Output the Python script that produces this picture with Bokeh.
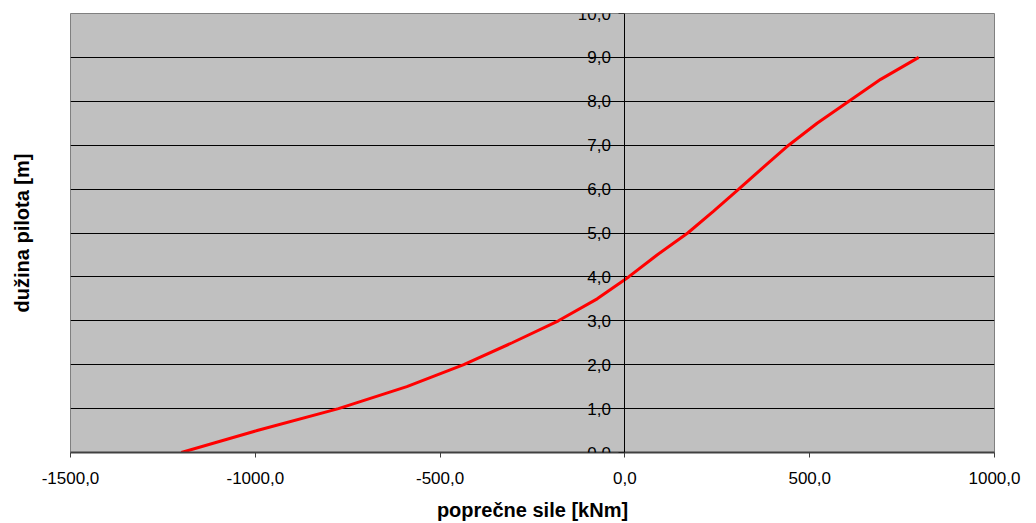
from bokeh.plotting import figure
from bokeh.models import LinearAxis, FixedTicker, Range1d
from bokeh.embed import file_html
from bokeh.resources import INLINE

# data: transverse force (x) vs pile length (y)
pile_length = [0.0, 0.5, 1.0, 1.5, 2.0, 2.5, 3.0, 3.5, 4.0, 4.5, 5.0, 5.5, 6.0, 6.5, 7.0, 7.5, 8.0, 8.5, 9.0]
force = [-1200, -995, -775, -590, -436, -305, -180, -75, 10, 87, 170, 240, 308, 375, 443, 520, 606, 692, 795]

x_ticks = [-1500, -1000, -500, 0, 500, 1000]
y_ticks = [0, 1, 2, 3, 4, 5, 6, 7, 8, 9, 10]
x_title = "poprečne sile [kNm]"
y_title = "dužina pilota [m]"

FONT = "Liberation Sans"

p = figure(width=1030, height=523, output_backend="svg", toolbar_location=None,
           x_range=Range1d(-1500, 1000), y_range=Range1d(0, 10),
           min_border_left=70, min_border_right=36, min_border_top=13, min_border_bottom=70,
           background_fill_color="#C0C0C0", border_fill_color="white",
           outline_line_color="#808080")

# horizontal gridlines
p.xgrid.visible = False
p.ygrid.ticker = FixedTicker(ticks=y_ticks)
p.ygrid.grid_line_color = "black"
p.ygrid.grid_line_width = 1

# bottom axis
xa = p.xaxis[0]
xa.ticker = FixedTicker(ticks=x_ticks)
xa.major_label_overrides = {v: f"{v:.1f}".replace(".", ",") for v in x_ticks}
xa.axis_line_color = "#404040"
xa.axis_line_width = 2
xa.major_tick_line_color = "#404040"
xa.major_tick_in = 0
xa.major_tick_out = 5
xa.minor_tick_line_color = None
xa.major_label_text_font = FONT
xa.major_label_text_font_size = "17px"
xa.major_label_text_color = "black"
xa.major_label_standoff = 14
xa.axis_label = x_title
xa.axis_label_text_font = FONT
xa.axis_label_text_font_size = "20px"
xa.axis_label_text_font_style = "bold"
xa.axis_label_text_color = "black"
xa.axis_label_standoff = 12

# left axis: only the title
ya = p.yaxis[0]
ya.ticker = FixedTicker(ticks=[])
ya.axis_line_color = None
ya.major_tick_line_color = None
ya.minor_tick_line_color = None
ya.axis_label = y_title
ya.axis_label_text_font = FONT
ya.axis_label_text_font_size = "20px"
ya.axis_label_text_font_style = "bold"
ya.axis_label_text_color = "black"
ya.axis_label_standoff = 38

# axis crossing at x = 0 with tick labels
ya0 = LinearAxis(fixed_location=0, ticker=FixedTicker(ticks=y_ticks))
ya0.major_label_overrides = {v: f"{v:.1f}".replace(".", ",") for v in y_ticks}
ya0.axis_line_color = "black"
ya0.axis_line_width = 1
ya0.major_tick_line_color = "black"
ya0.major_tick_in = 0
ya0.major_tick_out = 6
ya0.minor_tick_line_color = None
ya0.major_label_text_font = FONT
ya0.major_label_text_font_size = "17px"
ya0.major_label_text_color = "black"
ya0.major_label_standoff = 8
p.add_layout(ya0, "left")

p.line(force, pile_length, line_color="#FF0000", line_width=3)

open("out.html", "w").write(file_html(p, INLINE))
